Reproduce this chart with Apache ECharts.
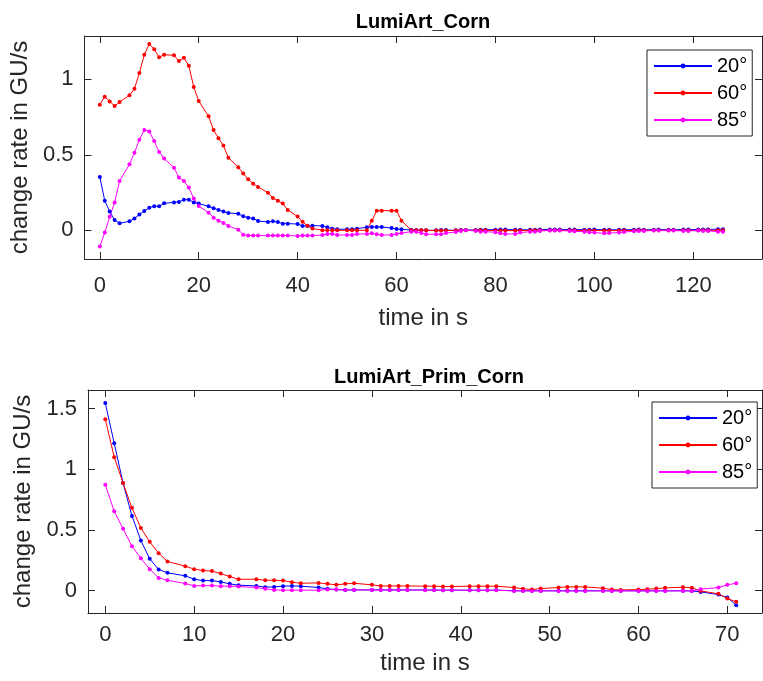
<!DOCTYPE html>
<html>
<head>
<meta charset="utf-8">
<script src="https://cdn.jsdelivr.net/npm/echarts@6/dist/echarts.min.js"></script>
<style>
  html, body { margin: 0; padding: 0; background: #fff; }
  #chart { width: 763px; height: 681px; }
</style>
</head>
<body>
<div id="chart"></div>
<script>
// top panel: LumiArt_Corn
const tTop = [0,1,2,3,4,6,7,8,9,10,11,12,13,15,16,17,18,19,20,22,23,24,25,26,28,29,30,31,32,34,35,36,37,38,40,41,42,43,45,46,47,48,50,51,52,54,55,56,57,59,60,61,63,64,65,66,68,69,70,72,73,74,76,77,78,80,81,82,84,85,87,88,89,91,92,93,95,96,98,99,100,102,103,105,106,108,109,110,112,113,115,116,118,119,121,122,123,125,126];
const topBlue = [0.353,0.196,0.124,0.068,0.046,0.060,0.079,0.104,0.128,0.150,0.159,0.159,0.179,0.185,0.188,0.203,0.203,0.185,0.177,0.159,0.146,0.135,0.124,0.115,0.110,0.093,0.084,0.079,0.062,0.055,0.060,0.055,0.044,0.044,0.042,0.029,0.029,0.031,0.029,0.020,0.011,0.007,0.007,0.007,0.011,0.020,0.022,0.022,0.022,0.015,0.009,0.007,0.002,0.002,0.000,0.000,0.000,0.002,0.002,0.000,0.002,0.002,0.002,0.004,0.004,0.004,0.005,0.005,0.004,0.004,0.003,0.004,0.005,0.006,0.006,0.005,0.006,0.005,0.004,0.004,0.005,0.004,0.004,0.003,0.004,0.004,0.005,0.004,0.004,0.005,0.004,0.004,0.005,0.005,0.005,0.006,0.006,0.007,0.007];
const topRed = [0.832,0.885,0.854,0.823,0.850,0.894,0.938,1.042,1.163,1.234,1.199,1.146,1.163,1.159,1.121,1.143,1.090,0.949,0.856,0.755,0.664,0.609,0.561,0.481,0.417,0.377,0.338,0.309,0.287,0.249,0.214,0.196,0.177,0.135,0.091,0.056,0.030,0.012,0.001,0.000,0.000,0.000,0.000,0.000,0.000,0.000,0.064,0.130,0.130,0.130,0.130,0.064,0.000,0.000,0.000,0.000,-0.002,-0.002,-0.002,-0.001,0.000,0.000,0.000,0.000,0.000,-0.002,-0.002,-0.002,-0.002,-0.002,-0.001,0.000,0.000,0.000,0.000,0.000,0.000,0.000,-0.002,-0.002,-0.002,-0.002,-0.002,-0.002,-0.002,-0.001,0.000,0.000,0.000,0.000,0.000,0.000,0.000,0.000,0.000,0.000,0.000,0.000,0.000];
const topMagenta = [-0.108,-0.015,0.090,0.185,0.327,0.437,0.514,0.600,0.664,0.655,0.591,0.519,0.475,0.415,0.349,0.327,0.283,0.210,0.161,0.117,0.084,0.064,0.049,0.029,0.004,-0.029,-0.035,-0.035,-0.035,-0.035,-0.035,-0.035,-0.035,-0.035,-0.037,-0.035,-0.035,-0.035,-0.031,-0.024,-0.024,-0.031,-0.031,-0.031,-0.024,-0.024,-0.020,-0.026,-0.031,-0.031,-0.024,-0.018,-0.009,-0.009,-0.018,-0.026,-0.026,-0.026,-0.018,-0.011,-0.004,0.000,-0.004,-0.009,-0.009,-0.013,-0.020,-0.024,-0.024,-0.015,-0.009,-0.009,-0.004,-0.002,-0.002,-0.002,-0.004,-0.007,-0.009,-0.013,-0.015,-0.020,-0.018,-0.015,-0.011,-0.007,-0.004,-0.004,-0.002,-0.002,-0.002,-0.002,-0.004,-0.004,-0.002,-0.004,-0.004,-0.009,-0.009];

// bottom panel: LumiArt_Prim_Corn
const tBot = [0,1,2,3,4,5,6,7,9,10,11,12,13,14,15,17,18,19,20,21,22,24,25,26,27,28,30,31,32,33,34,36,37,38,39,41,42,43,44,46,47,48,49,51,52,53,54,56,57,58,60,61,62,63,65,66,67,69,70,71];
const botBlue = [1.544,1.214,0.885,0.615,0.412,0.261,0.173,0.146,0.121,0.093,0.082,0.082,0.071,0.055,0.044,0.038,0.028,0.030,0.036,0.038,0.036,0.025,0.014,0.008,0.005,0.005,0.005,0.005,0.005,0.005,0.005,0.004,0.004,0.003,0.003,0.003,0.002,0.002,0.004,-0.002,-0.002,-0.002,-0.002,-0.002,-0.002,-0.002,-0.002,-0.002,-0.002,-0.002,-0.002,-0.002,-0.002,-0.002,-0.002,-0.003,-0.011,-0.033,-0.058,-0.121];
const botRed = [1.412,1.099,0.885,0.681,0.516,0.401,0.308,0.239,0.201,0.176,0.165,0.160,0.140,0.115,0.093,0.093,0.085,0.085,0.082,0.069,0.060,0.063,0.055,0.047,0.055,0.060,0.047,0.038,0.038,0.038,0.038,0.036,0.036,0.033,0.033,0.036,0.036,0.036,0.036,0.025,0.014,0.008,0.016,0.025,0.030,0.030,0.030,0.019,0.008,0.005,0.008,0.011,0.016,0.022,0.027,0.022,-0.003,-0.027,-0.066,-0.093];
const botMagenta = [0.871,0.654,0.508,0.365,0.266,0.176,0.104,0.085,0.058,0.038,0.041,0.041,0.036,0.036,0.033,0.025,0.014,0.005,0.003,0.003,0.003,0.003,0.008,0.008,0.005,0.005,0.005,0.004,0.004,0.004,0.004,0.003,0.003,0.003,0.003,0.002,0.002,0.002,0.002,-0.003,-0.003,-0.003,-0.003,-0.003,-0.003,-0.003,-0.003,-0.003,-0.003,-0.003,-0.003,-0.003,-0.003,-0.003,-0.003,-0.003,0.011,0.025,0.047,0.060];

const names = ['20°', '60°', '85°'];
const colors = ['#0000ff', '#ff0000', '#ff00ff'];
const topXTicks = [0, 20, 40, 60, 80, 100, 120];
const topYTicks = [0, 0.5, 1];
const botXTicks = [0, 10, 20, 30, 40, 50, 60, 70];
const botYTicks = [0, 0.5, 1, 1.5];

const font = '"Liberation Sans", Arial, sans-serif';
const axisCol = '#262626';

function pairs(t, v) {
  return t.map((x, i) => [x, v[i]]);
}

function xAx(grid, pos, min, max, ticks, withLabel, margin, gap) {
  return {
    type: 'value', gridIndex: grid, position: pos, min: min, max: max,
    name: withLabel ? 'time in s' : '', nameLocation: 'middle', nameGap: gap,
    nameTextStyle: { fontFamily: font, fontSize: 24, color: axisCol },
    axisLine: { show: true, onZero: false, lineStyle: { color: axisCol, width: 1 } },
    axisTick: { show: true, inside: true, length: 7, customValues: ticks, lineStyle: { color: axisCol } },
    axisLabel: { show: withLabel, customValues: ticks, margin: margin, fontFamily: font, fontSize: 22, color: axisCol },
    splitLine: { show: false }
  };
}

function yAx(grid, pos, min, max, ticks, withLabel) {
  return {
    type: 'value', gridIndex: grid, position: pos, min: min, max: max,
    name: withLabel ? 'change rate in GU/s' : '', nameLocation: 'middle', nameGap: 45,
    nameTextStyle: { fontFamily: font, fontSize: 24, color: axisCol },
    axisLine: { show: true, onZero: false, lineStyle: { color: axisCol, width: 1 } },
    axisTick: { show: true, inside: true, length: 7, customValues: ticks, lineStyle: { color: axisCol } },
    axisLabel: { show: withLabel, customValues: ticks, margin: 11, fontFamily: font, fontSize: 22, color: axisCol },
    splitLine: { show: false }
  };
}

function lines(t, sets, xi, yi) {
  return sets.map((vals, i) => ({
    name: names[i], type: 'line', xAxisIndex: xi, yAxisIndex: yi,
    data: pairs(t, vals),
    symbol: 'circle', symbolSize: 4, showSymbol: true,
    lineStyle: { color: colors[i], width: 1 },
    itemStyle: { color: colors[i] },
    emphasis: { disabled: true }
  }));
}

function legendAt(left, top) {
  return {
    data: names, orient: 'vertical', left: left, top: top,
    itemWidth: 58, itemHeight: 6, itemGap: 7,
    padding: [6, 5, 6, 6],
    backgroundColor: '#fff', borderColor: axisCol, borderWidth: 1,
    textStyle: { fontFamily: font, fontSize: 20, color: '#000' },
    selectedMode: false
  };
}

const chart = echarts.init(document.getElementById('chart'));
chart.setOption({
  animation: false,
  backgroundColor: '#fff',
  title: [
    { text: 'LumiArt_Corn', left: 418, top: 7, textAlign: 'center',
      textStyle: { fontFamily: font, fontSize: 20, fontWeight: 'bold', color: '#000' } },
    { text: 'LumiArt_Prim_Corn', left: 424, top: 362, textAlign: 'center',
      textStyle: { fontFamily: font, fontSize: 20, fontWeight: 'bold', color: '#000' } }
  ],
  grid: [
    { left: 83, top: 36, width: 679, height: 223 },
    { left: 88, top: 390, width: 674, height: 223 }
  ],
  xAxis: [
    xAx(0, 'bottom', -3.1, 133.9, topXTicks, true, 16, 47),
    xAx(0, 'top', -3.1, 133.9, topXTicks, false, 16, 47),
    xAx(1, 'bottom', -1.947, 73.9, botXTicks, true, 11, 38),
    xAx(1, 'top', -1.947, 73.9, botXTicks, false, 11, 38)
  ],
  yAxis: [
    yAx(0, 'left', -0.19, 1.287, topYTicks, true),
    yAx(0, 'right', -0.19, 1.287, topYTicks, false),
    yAx(1, 'left', -0.185, 1.652, botYTicks, true),
    yAx(1, 'right', -0.185, 1.652, botYTicks, false)
  ],
  legend: [legendAt(647, 50), legendAt(652, 402)],
  series: [].concat(
    lines(tTop, [topBlue, topRed, topMagenta], 0, 0),
    lines(tBot, [botBlue, botRed, botMagenta], 2, 2)
  )
});
</script>
</body>
</html>
